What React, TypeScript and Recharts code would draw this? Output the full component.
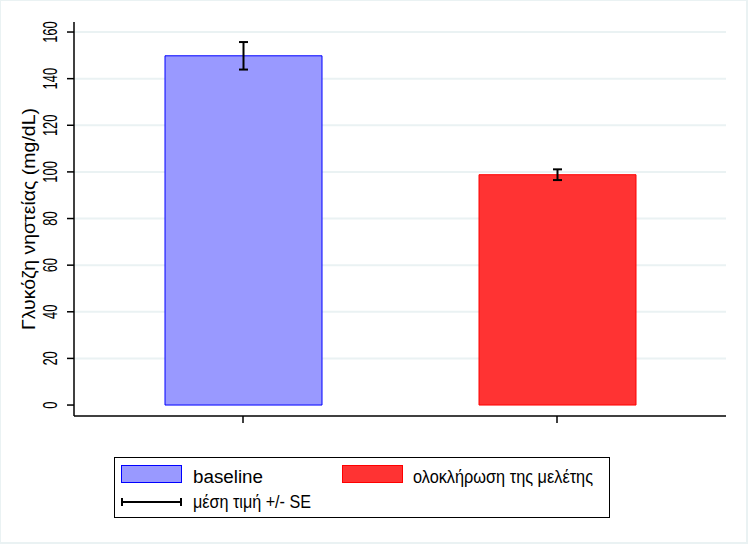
import React from 'react';
import { ComposedChart, Bar, XAxis, YAxis, CartesianGrid, ErrorBar, Cell } from 'recharts';

const categories = ['baseline', 'ολοκλήρωση της μελέτης'];
const meanValues = [149.8, 98.8];
const seValues = [5.9, 2.3];
const yTicks = [0, 20, 40, 60, 80, 100, 120, 140, 160];
const fillColors = ['#9999ff', '#ff3333'];
const strokeColors = ['#0000ff', '#ff0000'];
const yTitle = 'Γλυκόζη νηστείας (mg/dL)';
const seLabel = 'μέση τιμή +/- SE';

const data = categories.map((c, i) => ({ name: c, mean: meanValues[i], se: seValues[i] }));

const FONT = "Arial, 'Liberation Sans', sans-serif";

const YTick = (props: any) => {
  const { x, y, payload } = props;
  const s = String(payload.value);
  return (
    <text
      x={0}
      y={0}
      transform={`translate(${x - 15}, ${y}) rotate(-90)`}
      textAnchor="middle"
      dominantBaseline="central"
      fontSize={19.5}
      fontFamily={FONT}
      fill="#000"
      textLength={s.length * 7.2}
      lengthAdjust="spacingAndGlyphs"
    >
      {s}
    </text>
  );
};

const YTitle = (props: any) => {
  const vb = props.viewBox || { x: 0, y: 22, width: 74, height: 394 };
  const cy = vb.y + vb.height / 2;
  return (
    <text
      x={0}
      y={0}
      transform={`translate(29, ${cy}) rotate(-90)`}
      textAnchor="middle"
      dominantBaseline="central"
      fontSize={18}
      fontFamily={FONT}
      fill="#000"
      textLength={222}
      lengthAdjust="spacingAndGlyphs"
    >
      {yTitle}
    </text>
  );
};

const legendTextLengths = [70, 180];
const seTextLength = 118;

export default function App() {
  return (
    <div style={{ position: 'absolute', left: 0, top: 0, width: 748, height: 544, background: '#eaf2f3' }}>
      <div style={{ position: 'absolute', left: 1, top: 1, width: 745, height: 541, background: '#ffffff' }} />
      <div style={{ position: 'absolute', left: 0, top: 0 }}>
        <ComposedChart width={748} height={544} data={data} margin={{ top: 22, right: 22, left: 0, bottom: 98 }}>
          <CartesianGrid
            vertical={false}
            stroke="#eaf2f3"
            strokeWidth={2}
            horizontalValues={yTicks.filter((v) => v !== 0)}
          />
          <XAxis
            dataKey="name"
            type="category"
            padding={{ left: 12, right: 12 }}
            tickSize={7}
            tickFormatter={() => ''}
            height={30}
            stroke="#000"
            axisLine={{ stroke: '#000', strokeWidth: 1.5 }}
            tickLine={{ stroke: '#000', strokeWidth: 1.5 }}
          />
          <YAxis
            type="number"
            domain={[-4.7, 164.3]}
            allowDataOverflow
            ticks={yTicks}
            interval={0}
            width={74}
            tickSize={7}
            tick={<YTick />}
            axisLine={{ stroke: '#000', strokeWidth: 1.5 }}
            tickLine={{ stroke: '#000', strokeWidth: 1.5 }}
            label={{ content: (p: any) => <YTitle {...p} /> }}
          />
          <Bar dataKey="mean" barSize={157} isAnimationActive={false} strokeWidth={1}>
            {data.map((d, i) => (
              <Cell key={d.name} fill={fillColors[i]} stroke={strokeColors[i]} />
            ))}
            <ErrorBar dataKey="se" direction="y" width={4.5} stroke="#000" strokeWidth={2} isAnimationActive={false} />
          </Bar>
        </ComposedChart>
      </div>
      <svg
        width={560}
        height={61}
        style={{ position: 'absolute', left: 114, top: 457, overflow: 'visible' }}
        fontFamily={FONT}
        fontSize={18}
      >
        <rect x={0.5} y={0.5} width={495} height={60} fill="#fff" stroke="#000" strokeWidth={1} />
        {categories.map((c, i) => (
          <g key={c}>
            <rect
              x={7.5 + i * 221}
              y={8.5}
              width={60}
              height={17}
              fill={fillColors[i]}
              stroke={strokeColors[i]}
              strokeWidth={1}
            />
            <text
              x={79 + i * 220}
              y={26}
              fill="#000"
              textLength={legendTextLengths[i]}
              lengthAdjust="spacingAndGlyphs"
            >
              {c}
            </text>
          </g>
        ))}
        <line x1={7} y1={45} x2={68} y2={45} stroke="#000" strokeWidth={2} />
        <line x1={8} y1={41} x2={8} y2={49} stroke="#000" strokeWidth={2} />
        <line x1={67} y1={41} x2={67} y2={49} stroke="#000" strokeWidth={2} />
        <text x={79} y={51} fill="#000" textLength={seTextLength} lengthAdjust="spacingAndGlyphs">
          {seLabel}
        </text>
      </svg>
    </div>
  );
}
